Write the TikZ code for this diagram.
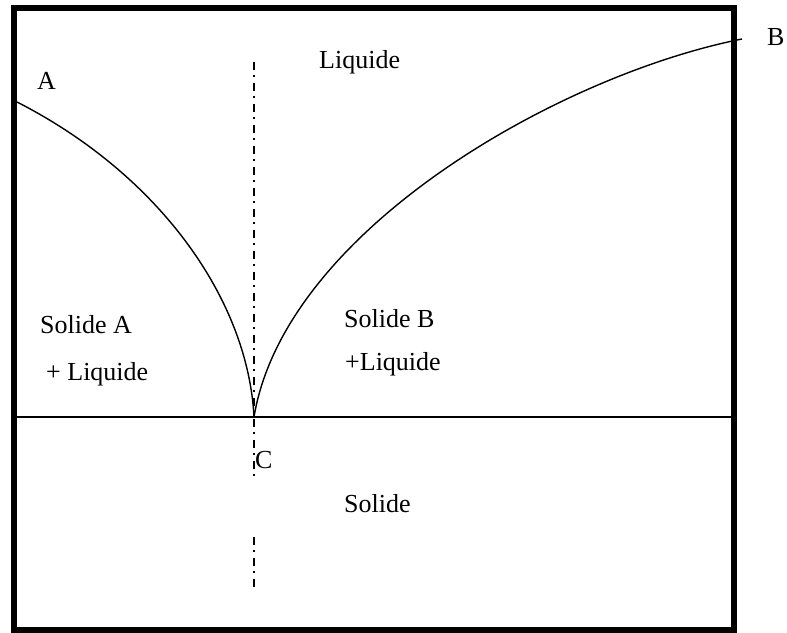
\documentclass[tikz,border=0pt]{standalone}
\usepackage{fontspec}
\setmainfont{Liberation Serif}
\usepackage{xcolor}
\usepackage{tikz}
\usetikzlibrary{calc}

\begin{document}
\begin{tikzpicture}[
  x=1pt, y=-1pt,
  lbl/.style={inner sep=0pt, anchor=base west, font=\fontsize{26}{30}\selectfont},
  frame/.style={draw=black, line width=6pt},
  curve/.style={draw=black, line width=1.4pt},
  axis_line/.style={draw=black, line width=1.8pt},
  eut_line/.style={draw=black, line width=1.8pt, dash pattern=on 8pt off 5pt on 2pt off 6pt}
]
\useasboundingbox (0,0) rectangle (787,632);
%% frame of the diagram
\draw[frame] (14,8) rectangle (734,630);
%% key points
\coordinate (pt_a)  at (17,102);
\coordinate (pt_c)  at (254,417);
\coordinate (pt_b)  at (742,39);
\coordinate (sol_l) at (17,417);
\coordinate (sol_r) at (734,417);
\coordinate (eu_top) at (254,62);
\coordinate (eu_mid) at (254,476);
\coordinate (eu_low) at (254,537);
\coordinate (eu_bot) at (254,587);
%% liquidus curves
\draw[curve] (pt_a) .. controls (160,175) and (248,300) .. (pt_c);
\draw[curve] (pt_c) .. controls (285,230) and (560,75) .. (pt_b);
%% solidus
\draw[axis_line] (sol_l) -- (sol_r);
%% eutectic composition
\draw[eut_line] (eu_top) -- (eu_mid);
\draw[eut_line] (eu_low) -- (eu_bot);
%% labels
\node[lbl] (lab_a)   at (37,89)   {A};
\node[lbl] (lab_b)   at (767,45)  {B};
\node[lbl] (lab_c)   at (255,468) {C};
\node[lbl] (liq)     at (319,68)  {Liquide};
\node[lbl] (sol_a)   at (40,333)  {Solide A};
\node[lbl] (liq_a)   at (46,380)  {+ Liquide};
\node[lbl] (sol_b)   at (344,327) {Solide B};
\node[lbl] (liq_b)   at (345,370) {+Liquide};
\node[lbl] (sol)     at (344,512) {Solide};
\end{tikzpicture}
\end{document}
